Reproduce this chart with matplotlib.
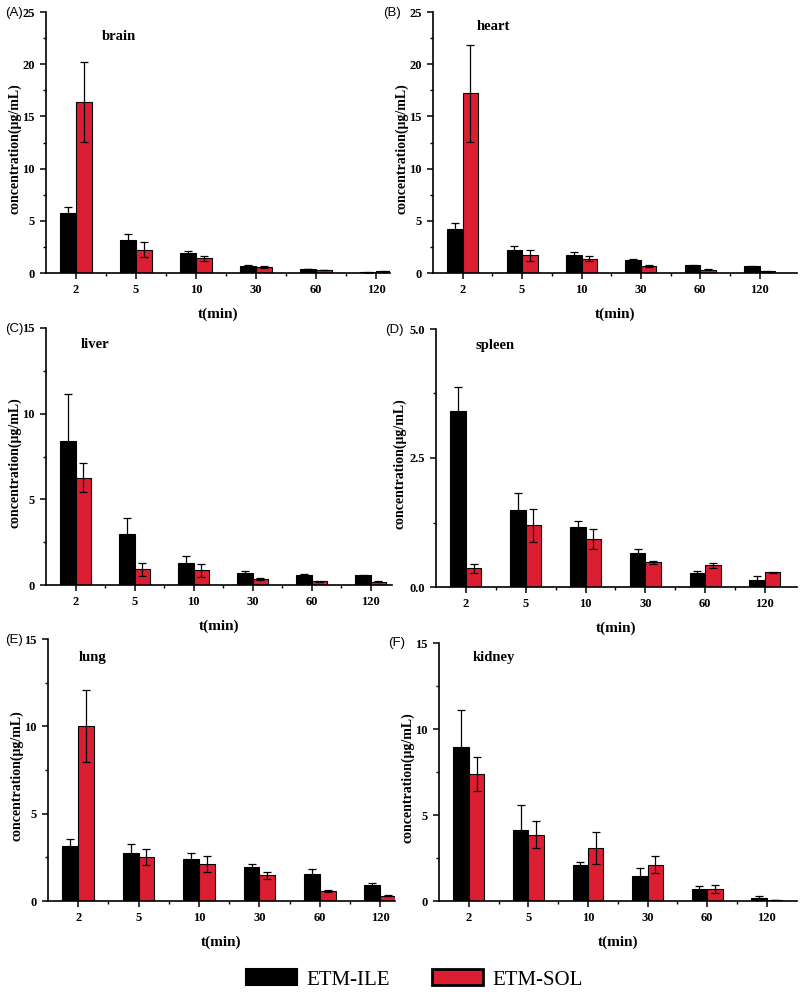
import numpy as np
import matplotlib
matplotlib.use("Agg")
import matplotlib.pyplot as plt
from matplotlib.patches import Patch
from matplotlib.ticker import MultipleLocator, FormatStrFormatter, FixedLocator

# ---------------- data ----------------
times = ["2", "5", "10", "30", "60", "120"]
series_names = ["ETM-ILE", "ETM-SOL"]
organs = ["brain", "heart", "liver", "spleen", "lung", "kidney"]
panel_letters = ["(A)", "(B)", "(C)", "(D)", "(E)", "(F)"]

brain_ile = [5.7, 3.15, 1.9, 0.65, 0.38, 0.06]
brain_ile_err = [0.65, 0.6, 0.18, 0.1, 0.04, 0.02]
brain_sol = [16.4, 2.25, 1.42, 0.55, 0.27, 0.16]
brain_sol_err = [3.85, 0.72, 0.25, 0.08, 0.03, 0.02]

heart_ile = [4.22, 2.24, 1.76, 1.28, 0.73, 0.64]
heart_ile_err = [0.55, 0.3, 0.22, 0.07, 0.03, 0.03]
heart_sol = [17.2, 1.69, 1.37, 0.67, 0.32, 0.16]
heart_sol_err = [4.65, 0.5, 0.22, 0.1, 0.05, 0.02]

liver_ile = [8.42, 2.98, 1.3, 0.72, 0.6, 0.56]
liver_ile_err = [2.7, 0.94, 0.4, 0.08, 0.04, 0.05]
liver_sol = [6.25, 0.92, 0.86, 0.35, 0.22, 0.2]
liver_sol_err = [0.85, 0.38, 0.38, 0.03, 0.02, 0.02]

spleen_ile = [3.42, 1.5, 1.17, 0.66, 0.28, 0.13]
spleen_ile_err = [0.46, 0.33, 0.1, 0.08, 0.03, 0.09]
spleen_sol = [0.36, 1.2, 0.93, 0.48, 0.42, 0.29]
spleen_sol_err = [0.09, 0.32, 0.19, 0.03, 0.05, 0.01]

lung_ile = [3.17, 2.73, 2.41, 1.93, 1.57, 0.9]
lung_ile_err = [0.37, 0.56, 0.36, 0.21, 0.28, 0.13]
lung_sol = [10.02, 2.5, 2.1, 1.47, 0.55, 0.3]
lung_sol_err = [2.05, 0.46, 0.46, 0.19, 0.06, 0.03]

kidney_ile = [8.93, 4.13, 2.08, 1.48, 0.7, 0.17]
kidney_ile_err = [2.2, 1.48, 0.21, 0.46, 0.15, 0.1]
kidney_sol = [7.4, 3.86, 3.09, 2.1, 0.72, 0.05]
kidney_sol_err = [0.99, 0.79, 0.93, 0.49, 0.23, 0.01]

ile_data = [brain_ile, heart_ile, liver_ile, spleen_ile, lung_ile, kidney_ile]
ile_errs = [brain_ile_err, heart_ile_err, liver_ile_err, spleen_ile_err, lung_ile_err, kidney_ile_err]
sol_data = [brain_sol, heart_sol, liver_sol, spleen_sol, lung_sol, kidney_sol]
sol_errs = [brain_sol_err, heart_sol_err, liver_sol_err, spleen_sol_err, lung_sol_err, kidney_sol_err]

y_max = [25, 25, 15, 5.0, 15, 15]
y_major = [5, 5, 5, 2.5, 5, 5]

# ---------------- layout (pixels of an 800x994 image) ----------------
W, H = 800, 994
# left, right, top, bottom
boxes = [(46, 390, 12, 273), (433, 797, 12, 273),
         (46, 392, 328, 585), (436, 797, 329, 587),
         (48, 395, 639, 901), (439, 797, 643, 901)]
cat_unit = [60, 59.4, 59, 59.8, 60.4, 59.6]
label_pos = [(102, 37), (477, 27), (81, 345), (475, 345), (79, 657), (473, 658)]
letter_pos = [(5, 13), (383, 13), (5, 329), (385, 330), (5, 640), (388, 643)]
ylabel_x = [15, 402, 15, 400, 17, 408]

RED = "#DC1E32"
SERIF = ["Liberation Serif", "DejaVu Serif"]
SANS = ["Liberation Sans", "DejaVu Sans"]

fig = plt.figure(figsize=(W / 100, H / 100), dpi=100)

w = 0.26
x = np.arange(len(times))
for i in range(6):
    l, r, t, b = boxes[i]
    ax = fig.add_axes([l / W, 1 - b / H, (r - l) / W, (b - t) / H])
    ekw = dict(ecolor="black", elinewidth=0.9, capthick=0.9)
    ax.bar(x - w / 2, ile_data[i], w, color="black", edgecolor="black", linewidth=0.8,
           yerr=ile_errs[i], capsize=2.6, error_kw=ekw, zorder=2)
    ax.bar(x + w / 2, sol_data[i], w, color=RED, edgecolor="black", linewidth=0.8,
           yerr=sol_errs[i], capsize=2.6, error_kw=ekw, zorder=2)
    unit = cat_unit[i]
    ax.set_xlim(-0.5, -0.5 + (r - l) / unit)
    ax.set_ylim(0, y_max[i])
    ax.set_xticks(x)
    ax.set_xticklabels(times)
    ax.xaxis.set_minor_locator(FixedLocator(x[:-1] + 0.5))
    ax.yaxis.set_major_locator(MultipleLocator(y_major[i]))
    ax.yaxis.set_minor_locator(MultipleLocator(y_major[i] / 2))
    if i == 3:
        ax.yaxis.set_major_formatter(FormatStrFormatter("%.1f"))
    else:
        ax.yaxis.set_major_formatter(FormatStrFormatter("%d"))
    for s in ("top", "right"):
        ax.spines[s].set_visible(False)
    for s in ("left", "bottom"):
        ax.spines[s].set_linewidth(1.2)
    ax.tick_params(which="major", direction="out", length=4, width=1.1, pad=4)
    ax.tick_params(which="minor", direction="out", length=2.5, width=1.0)
    for lab in ax.get_xticklabels() + ax.get_yticklabels():
        lab.set_fontfamily(SERIF)
        lab.set_fontweight("bold")
        lab.set_fontsize(9)
    ax.set_xlabel("t(min)", fontfamily=SERIF, fontweight="bold", fontsize=11, labelpad=8)
    fig.text(ylabel_x[i] / W, 1 - ((t + b) / 2 + 6) / H, "concentration(μg/mL)", rotation=90,
             fontfamily=SERIF, fontweight="bold", fontsize=10, ha="center", va="center")
    px, py = label_pos[i]
    fig.text(px / W, 1 - py / H, organs[i], fontfamily=SERIF, fontweight="bold",
             fontsize=10.5, ha="left", va="center")
    lx, ly = letter_pos[i]
    fig.text(lx / W, 1 - ly / H, panel_letters[i], fontfamily=SANS, fontsize=9.5,
             ha="left", va="center")

handles = [Patch(facecolor="black", edgecolor="black", linewidth=1.5),
           Patch(facecolor=RED, edgecolor="black", linewidth=2)]
fig.legend(handles, series_names, loc="center", bbox_to_anchor=(0.518, 0.0145), ncol=2,
           frameon=False, prop=dict(family=SERIF, size=15), handlelength=2.45,
           handleheight=0.8, handletextpad=0.45, columnspacing=2.0)

fig.savefig("out.png", dpi=100)
